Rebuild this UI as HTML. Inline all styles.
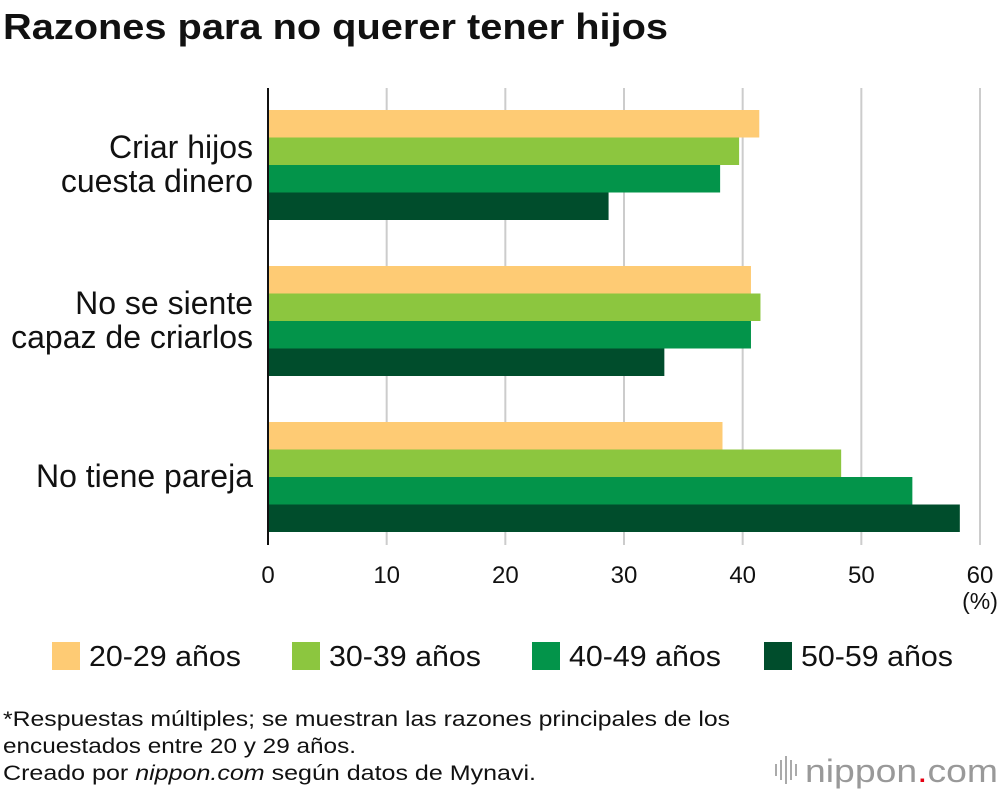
<!DOCTYPE html>
<html><head><meta charset="utf-8"><style>
body{margin:0;background:#fff;width:1000px;height:794px;overflow:hidden;font-family:"Liberation Sans",sans-serif;}
</style></head><body>
<svg width="1000" height="794" style="position:absolute;left:0;top:0">
<text x="3" y="39" font-size="36" font-weight="bold" fill="#111" textLength="665" lengthAdjust="spacingAndGlyphs">Razones para no querer tener hijos</text>
<g id="grid"></g>
<g id="bars"></g>
<line x1="268" y1="88" x2="268" y2="545" stroke="#111" stroke-width="2"/>
<g id="ticks"></g>
<g id="cats"></g>
<text x="980" y="609" font-size="23" text-anchor="middle" fill="#111">(%)</text>
<g id="legend"></g>
<g font-size="21" fill="#111">
<text x="3" y="726" textLength="727" lengthAdjust="spacingAndGlyphs">*Respuestas múltiples; se muestran las razones principales de los</text>
<text x="3" y="753" textLength="353" lengthAdjust="spacingAndGlyphs">encuestados entre 20 y 29 años.</text>
<text x="3" y="780" textLength="533" lengthAdjust="spacingAndGlyphs">Creado por <tspan font-style="italic">nippon.com</tspan> según datos de Mynavi.</text>
</g>
<g>
<g fill="#aaa"><rect x="775" y="764" width="2" height="12"/><rect x="780" y="760" width="2" height="20"/><rect x="785" y="756" width="2" height="28"/><rect x="790" y="760" width="2" height="20"/><rect x="795" y="764" width="2" height="12"/></g>
<text x="805" y="782" font-size="32" fill="#999" textLength="193" lengthAdjust="spacingAndGlyphs">nippon<tspan fill="#e60012">.</tspan>com</text>
</g>
</svg>
<script>
const categories=[["Criar hijos","cuesta dinero"],["No se siente","capaz de criarlos"],["No tiene pareja"]];
const seriesNames=["20-29 años","30-39 años","40-49 años","50-59 años"];
const s2029=[41.4,40.7,38.3];
const s3039=[39.7,41.5,48.3];
const s4049=[38.1,40.7,54.3];
const s5059=[28.7,33.4,58.3];
const ticks=[0,10,20,30,40,50,60];
const series=[s2029,s3039,s4049,s5059];
const colors=["#FECB74","#8CC63F","#03944A","#004D2C"];
const NS="http://www.w3.org/2000/svg";
const x=v=>268+v*(712/60);
const groupTop=i=>110+i*156;
const barH=27.5;
function mk(tag,attrs,parent){const e=document.createElementNS(NS,tag);for(const k in attrs)e.setAttribute(k,attrs[k]);document.getElementById(parent).appendChild(e);return e;}
ticks.forEach(t=>{
 if(t>0){const g=mk('line',{x1:x(t),x2:x(t),y1:88,y2:545,stroke:'#ccc','stroke-width':2},'grid');
 
 }
 const l=mk('text',{x:x(t),y:583,'font-size':24,'text-anchor':'middle',fill:'#111'},'ticks');l.textContent=t;
 
 
});
categories.forEach((c,i)=>{
 series.forEach((s,j)=>{
  const r=mk('rect',{x:x(0),y:groupTop(i)+j*barH,width:x(s[i])-x(0),height:barH,fill:colors[j]},'bars');
  
  
 });
 const cy=groupTop(i)+2*barH;
 c.forEach((line,k)=>{
  const t=mk('text',{x:253,y:cy+10+(k-(c.length-1)/2)*34,'font-size':32,'text-anchor':'end',fill:'#111'},'cats');t.textContent=line;
  
  
 });
});
const lx=[52,292,532,764];
seriesNames.forEach((n,j)=>{
 const r=mk('rect',{x:lx[j],y:642,width:28,height:28,fill:colors[j]},'legend');
 
 
 const t=mk('text',{x:lx[j]+37,y:666,'font-size':29,fill:'#111',textLength:152,lengthAdjust:'spacingAndGlyphs'},'legend');t.textContent=n;
 
 
});
</script>
</body></html>
